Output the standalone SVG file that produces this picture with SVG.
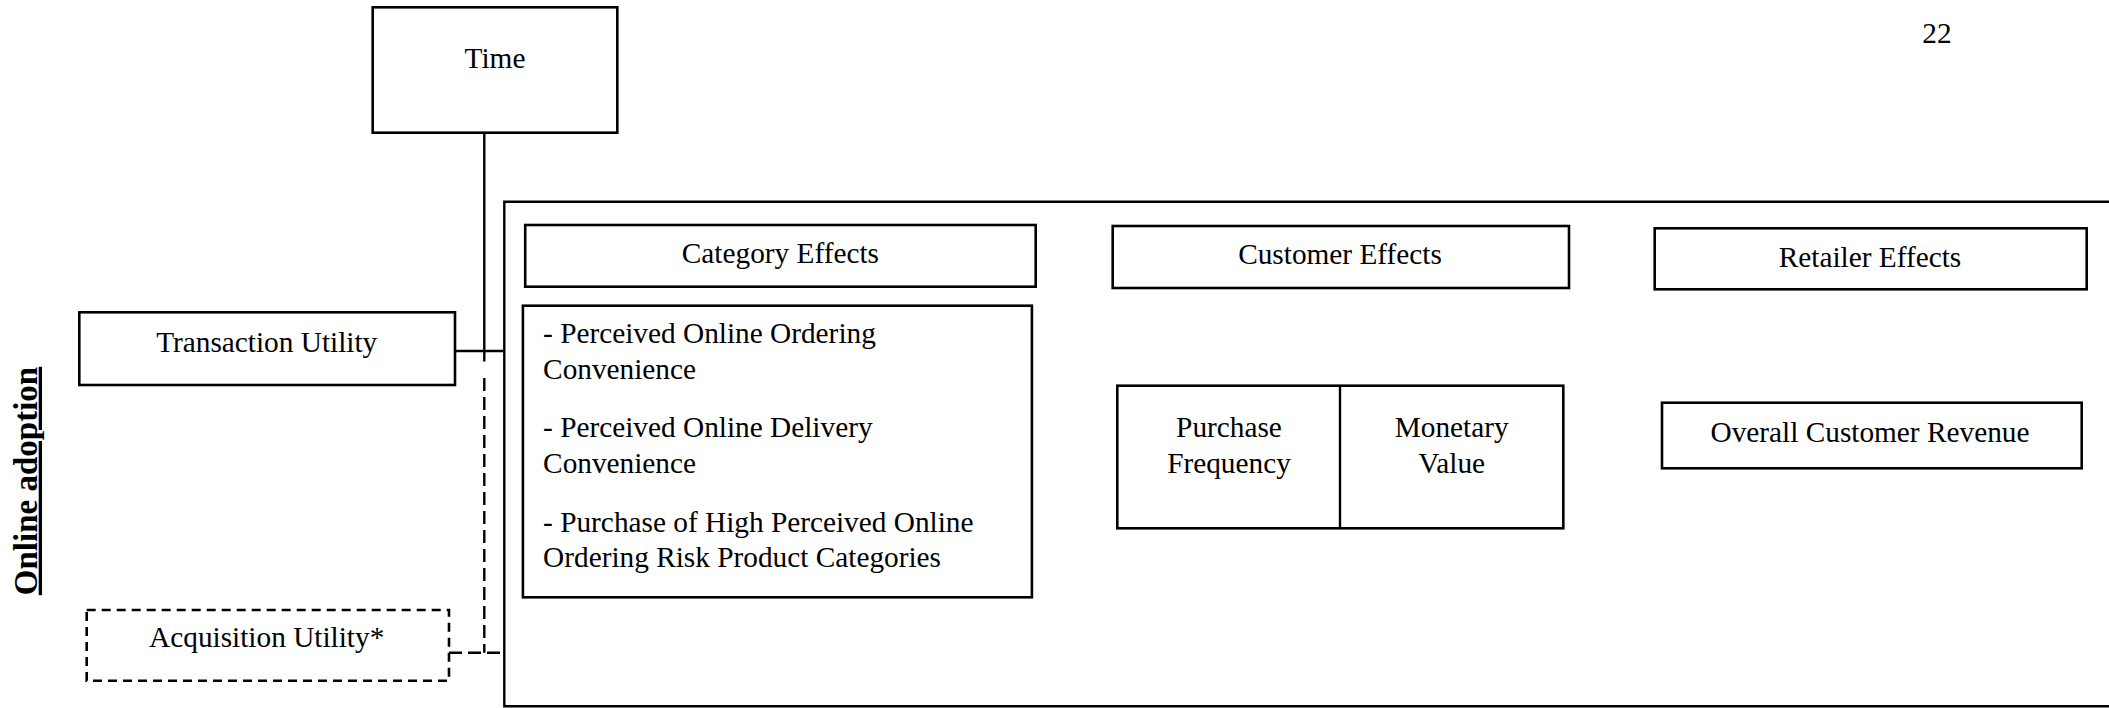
<svg xmlns="http://www.w3.org/2000/svg" width="2109" height="708" viewBox="0 0 2109 708">
  <style>
    text { font-family: "Liberation Serif", "Times New Roman", serif; font-size: 29.3px; fill: #000; }
    .c { text-anchor: middle; }
    .box { fill: #fff; stroke: #000; stroke-width: 2.6; }
    .dbox { fill: #fff; stroke: #000; stroke-width: 2.6; stroke-dasharray: 9 6; }
    .ln { fill: none; stroke: #000; stroke-width: 2.4; }
    .dln { fill: none; stroke: #000; stroke-width: 2.4; stroke-dasharray: 13 6; }
    .title { font-weight: bold; font-size: 33px; text-decoration: underline; }
  </style>

  <rect width="2109" height="708" fill="#fff"/>

  <!-- page number -->
  <text class="c" x="1937" y="43.3">22</text>

  <!-- side heading -->
  <text class="c title" transform="translate(36.7,481) rotate(-90)">Online adoption</text>

  <!-- connectors -->
  <g id="connectors">
    <path class="ln" d="M484.3,132.7 V361.5"/>
    <path class="ln" d="M455,351 H504.3"/>
    <path class="dln" d="M484.3,378 V652.7 M449,652.7 H504.3"/>
  </g>

  <!-- frame around the effects (open on the right) -->
  <g id="effects-frame">
    <path class="ln" d="M2112,201.7 H504.3 V706.3 H2112" stroke-width="2.7"/>
  </g>

  <g id="time">
    <rect class="box" x="372.7" y="7.3" width="244.6" height="125.4"/>
    <text class="c" x="495" y="68.3">Time</text>
  </g>

  <g id="transaction-utility">
    <rect class="box" x="79.3" y="312.3" width="375.7" height="72.7"/>
    <text class="c" x="266.7" y="351.7">Transaction Utility</text>
  </g>

  <g id="acquisition-utility">
    <rect class="dbox" x="86.7" y="610" width="362.3" height="70.7"/>
    <text class="c" x="266.7" y="647.3">Acquisition Utility*</text>
  </g>

  <g id="category-effects">
    <rect class="box" x="525.2" y="225" width="510.5" height="61.7"/>
    <text class="c" x="780.4" y="263.3">Category Effects</text>
  </g>

  <g id="category-items">
    <rect class="box" x="522.9" y="305.7" width="509" height="291.6"/>
    <text x="543.1" y="343.3">- Perceived Online Ordering</text>
    <text x="543.1" y="379.3">Convenience</text>
    <text x="543.1" y="436.7">- Perceived Online Delivery</text>
    <text x="543.1" y="472.7">Convenience</text>
    <text x="543.1" y="531.7">- Purchase of High Perceived Online</text>
    <text x="543.1" y="567.3">Ordering Risk Product Categories</text>
  </g>

  <g id="customer-effects">
    <rect class="box" x="1112.7" y="226" width="456.3" height="62"/>
    <text class="c" x="1340" y="264">Customer Effects</text>
  </g>

  <g id="customer-measures">
    <rect class="box" x="1117.3" y="385.7" width="446" height="142.6"/>
    <path class="ln" d="M1340,385.7 V528.3"/>
    <text class="c" x="1229" y="436.7">Purchase</text>
    <text class="c" x="1229" y="473.3">Frequency</text>
    <text class="c" x="1451.7" y="436.7">Monetary</text>
    <text class="c" x="1451.7" y="473.3">Value</text>
  </g>

  <g id="retailer-effects">
    <rect class="box" x="1654.7" y="228.3" width="432" height="61"/>
    <text class="c" x="1870" y="266.7">Retailer Effects</text>
  </g>

  <g id="overall-revenue">
    <rect class="box" x="1662" y="402.7" width="419.7" height="65.6"/>
    <text class="c" x="1870" y="441.7">Overall Customer Revenue</text>
  </g>
</svg>
